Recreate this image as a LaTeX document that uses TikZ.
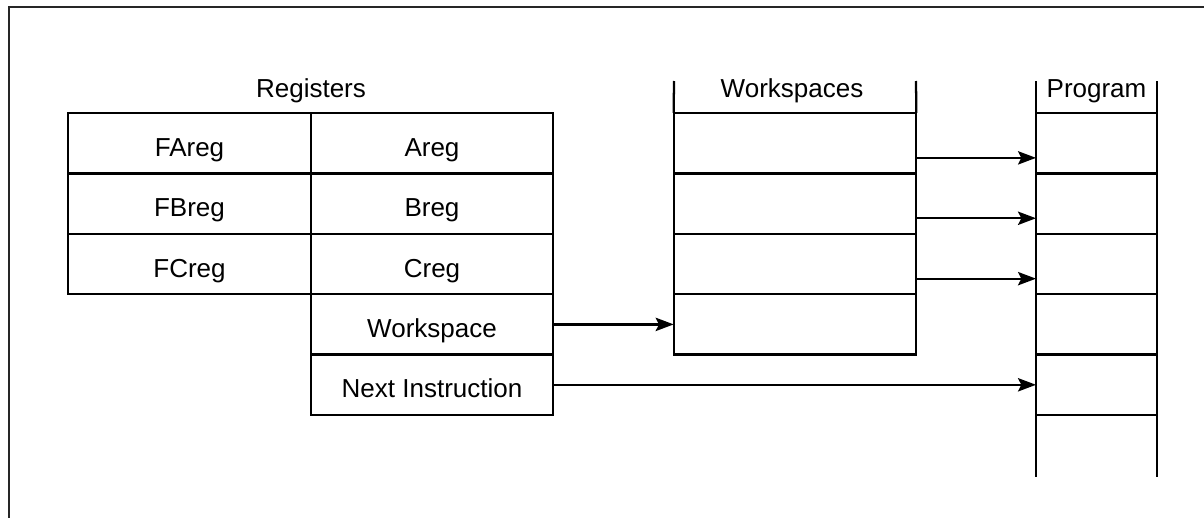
\documentclass[tikz,border=0pt]{standalone}
\usepackage{fontspec}
\setmainfont{Liberation Sans}
\usetikzlibrary{arrows.meta}
\tikzset{
  cell/.style={draw, line width=1.7pt, rectangle, inner sep=0pt, outer sep=0pt,
    minimum height=45.3pt, text height=19.5pt, text depth=0pt,
    font=\fontsize{19.5}{23}\selectfont},
  wide/.style={cell, minimum width=182pt},
  narrow/.style={cell, minimum width=90.75pt},
  title/.style={anchor=base, inner sep=0pt, font=\fontsize{19.5}{23}\selectfont},
  arr/.style={line width=1.7pt, -{Stealth[length=13.5pt, width=10pt, inset=2.5pt]}},
  rail/.style={line width=1.7pt},
  frame/.style={line width=0.9pt, draw=black!85}
}
\begin{document}
\begin{tikzpicture}[x=0.75pt, y=-0.75pt]
\useasboundingbox (0,0) rectangle (1204,518);
% frame
\coordinate (fa) at (9,518);
\coordinate (fb) at (9,7);
\coordinate (fc) at (1204,7);
\draw[frame] (fa) -- (fb) -- (fc);

% Registers
\node[title] (regt) at (311,97) {Registers};
\node[wide] (fa1) at (189.5,143.2) {FAreg\hspace{12.75pt}};
\node[wide] (fb1) at (189.5,203.6) {FBreg\hspace{12.75pt}};
\node[wide] (fc1) at (189.5,264.0) {FCreg\hspace{12.75pt}};
\node[wide] (ra) at (432,143.2) {Areg};
\node[wide] (rb) at (432,203.6) {Breg};
\node[wide] (rc) at (432,264.0) {Creg};
\node[wide] (rw) at (432,324.4) {Workspace};
\node[wide] (rn) at (432,384.8) {Next Instruction};

% Workspaces
\node[title] (wst) at (792,97) {Workspaces};
\node[wide] (w1) at (795,143.2) {};
\node[wide] (w2) at (795,203.6) {};
\node[wide] (w3) at (795,264.0) {};
\node[wide] (w4) at (795,324.4) {};
\coordinate (wtl) at (674,81);
\coordinate (wtr) at (916,81);
\draw[rail] (wtl) -- (w1.north west);
\draw[rail] (wtr) -- (w1.north east);

% Program
\node[title] (prt) at (1096.5,97) {Program};
\node[narrow] (p1) at (1096.5,143.2) {};
\node[narrow] (p2) at (1096.5,203.6) {};
\node[narrow] (p3) at (1096.5,264.0) {};
\node[narrow] (p4) at (1096.5,324.4) {};
\node[narrow] (p5) at (1096.5,384.8) {};
\coordinate (ptl) at (1036,81);
\coordinate (ptr) at (1157,81);
\coordinate (pbl) at (1036,477);
\coordinate (pbr) at (1157,477);
\draw[rail] (ptl) -- (pbl);
\draw[rail] (ptr) -- (pbr);

% arrows
\draw[arr] ([yshift=-11pt]w1.east) -- ([yshift=-11pt]p1.west);
\draw[arr] ([yshift=-11pt]w2.east) -- ([yshift=-11pt]p2.west);
\draw[arr] ([yshift=-11pt]w3.east) -- ([yshift=-11pt]p3.west);
\draw[arr] (rw.east) -- (w4.west);
\draw[arr] (rn.east) -- (p5.west);
\end{tikzpicture}
\end{document}
